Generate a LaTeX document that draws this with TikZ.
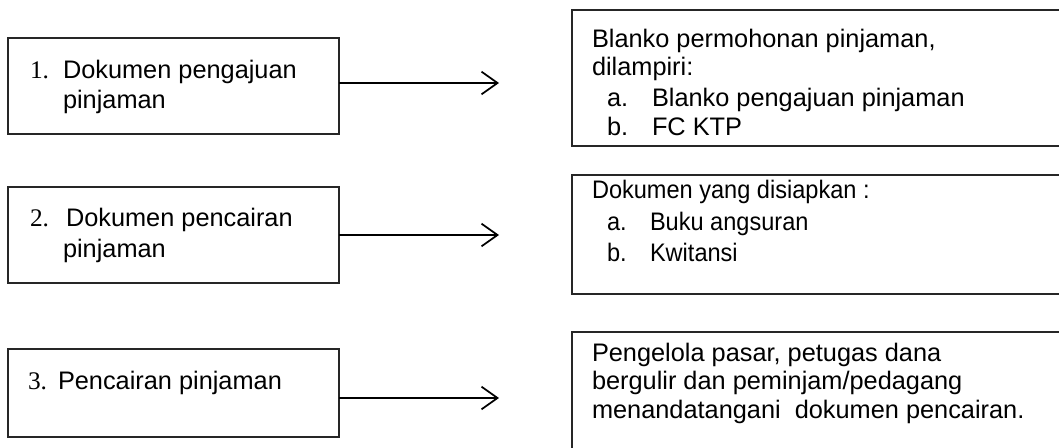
\documentclass[tikz,border=0pt]{standalone}
\usepackage{fontspec}
\setmainfont{Liberation Sans}
\newfontfamily\numfont{Liberation Serif}
\newfontfamily\narrowfont[FakeStretch=0.93]{Liberation Sans}
\usetikzlibrary{arrows.meta}
\tikzset{
  box/.style={draw=black!85, line width=1pt, anchor=north west, inner sep=0pt, outer sep=0pt},
  txt/.style={anchor=base west, inner sep=0pt, outer sep=0pt, font=\fontsize{19}{22.5}\selectfont},
  ntxt/.style={txt, font=\fontsize{19}{22.5}\narrowfont},
  arr/.style={line width=1.5pt, -{Straight Barb[length=12pt,width=17pt,line width=1.3pt]}}
}
\begin{document}
\begin{tikzpicture}[x=0.75pt,y=-0.75pt]
\useasboundingbox (0,0) rectangle (1059,448);
\clip (0,0) rectangle (1059,448);
% left boxes
\node[box, minimum width=248.25pt, minimum height=72pt] (b1) at (8,38) {};
\node[box, minimum width=248.25pt, minimum height=72pt] (b2) at (8,187) {};
\node[box, minimum width=248.25pt, minimum height=66pt] (b3) at (8,349) {};
% right boxes
\node[box, minimum width=375pt, minimum height=102pt] (r1) at (572,10) {};
\node[box, minimum width=375pt, minimum height=89.25pt] (r2) at (572,175) {};
\node[box, minimum width=375pt, minimum height=100pt] (r3) at (572,332) {};
% arrow ends
\coordinate (t1) at (499,83);
\coordinate (t2) at (499,235);
\coordinate (t3) at (499,398);
\draw[arr] (b1.east |- t1) -- (t1);
\draw[arr] (b2.east |- t2) -- (t2);
\draw[arr] (b3.east |- t3) -- (t3);
% left texts
\node[txt] (n1) at (30,79) {\numfont 1.};
\node[txt] (l1a) at (63,79) {Dokumen pengajuan};
\node[txt] (l1b) at (63,109) {pinjaman};
\node[txt] (n2) at (30,227) {\numfont 2.};
\node[txt] (l2a) at (66,227) {Dokumen pencairan};
\node[txt] (l2b) at (63,258) {pinjaman};
\node[txt] (n3) at (28,390) {\numfont 3.};
\node[txt] (l3a) at (58,390) {Pencairan pinjaman};
% right texts
\node[txt] (r1a) at (592,48) {Blanko permohonan pinjaman,};
\node[txt] (r1b) at (592,76) {dilampiri:};
\node[txt] (r1c) at (607,107) {a.};
\node[txt] (r1d) at (652,107) {Blanko pengajuan pinjaman};
\node[txt] (r1e) at (607,136) {b.};
\node[txt] (r1f) at (652,136) {FC KTP};
\node[ntxt] (r2a) at (592,199) {Dokumen yang disiapkan :};
\node[ntxt] (r2b) at (607,231) {a.};
\node[ntxt] (r2c) at (650,231) {Buku angsuran};
\node[ntxt] (r2d) at (607,262) {b.};
\node[ntxt] (r2e) at (650,262) {Kwitansi};
\node[txt] (r3a) at (592,362) {Pengelola pasar, petugas dana};
\node[txt] (r3b) at (592,390) {bergulir dan peminjam/pedagang};
\node[txt] (r3c) at (592,418) {menandatangani\ \ dokumen pencairan.};
\end{tikzpicture}
\end{document}
